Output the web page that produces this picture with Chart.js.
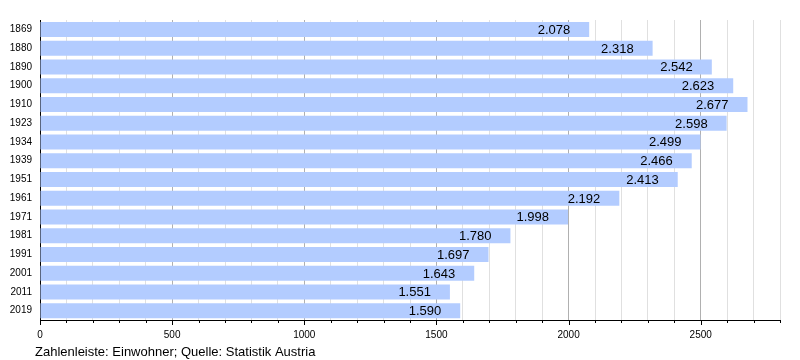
<!DOCTYPE html>
<html><head><meta charset="utf-8">
<script src="https://cdn.jsdelivr.net/npm/chart.js@4"></script>
<style>html,body{margin:0;padding:0;background:#fff}#wrap{width:800px;height:360px;position:relative}</style>
</head><body><div id="wrap"><canvas id="c" width="800" height="360"></canvas></div>
<script>
const years = ["1869","1880","1890","1900","1910","1923","1934","1939","1951","1961","1971","1981","1991","2001","2011","2019"];
const population = [2078,2318,2542,2623,2677,2598,2499,2466,2413,2192,1998,1780,1697,1643,1551,1590];
const xTickLabels = [0,500,1000,1500,2000,2500];
const footer = "Zahlenleiste: Einwohner; Quelle: Statistik Austria";
const FONT = "'Liberation Sans', Arial, sans-serif";

function fmt(v){ const s=String(v); return s.length>3 ? s.slice(0,s.length-3)+"."+s.slice(-3) : s; }

const extras = {
  id:'extras',
  afterDatasetsDraw(chart){
    const ctx=chart.ctx, meta=chart.getDatasetMeta(0);
    ctx.save();
    ctx.font="13px "+FONT; ctx.fillStyle="#000"; ctx.textAlign="right"; ctx.textBaseline="middle";
    meta.data.forEach((bar,i)=>{ ctx.fillText(fmt(population[i]), bar.x-19, bar.y+1); });
    // tick marks under x axis
    const xs=chart.scales.x, b=chart.chartArea.bottom;
    ctx.strokeStyle="#000"; ctx.lineWidth=1;
    for(let v=0; v<=2800; v+=100){
      const px=Math.round(xs.getPixelForValue(v))+0.5;
      ctx.beginPath(); ctx.moveTo(px,b); ctx.lineTo(px,b+(v%500===0?5:3)); ctx.stroke();
    }
    ctx.font="13px "+FONT; ctx.textAlign="left"; ctx.textBaseline="alphabetic";
    ctx.fillText(footer, 35, 356);
    ctx.restore();
  }
};

new Chart(document.getElementById('c'), {
  type:'bar',
  data:{ labels:years, datasets:[{ data:population, backgroundColor:'#b3ccff', borderWidth:0, categoryPercentage:1, barPercentage:0.8 }]},
  options:{
    indexAxis:'y', responsive:false, animation:false,
    layout:{ padding:{ left:0, right:20, top:20, bottom:0 } },
    plugins:{ legend:{display:false}, tooltip:{enabled:false} },
    scales:{
      x:{ min:0, max:2800,
        afterFit(s){ s.height=40; },
        ticks:{ stepSize:100, autoSkip:false, maxRotation:0, padding:9, color:'#000', font:{family:FONT,size:10},
          callback(v){ return xTickLabels.includes(v) ? String(v) : ''; } },
        grid:{ drawTicks:false, color(c){ const v=c.tick&&c.tick.value; return (v%500===0)?'#b0b0b0':'#e0e0e0'; } },
        border:{ color:'#000', width:1 }
      },
      y:{
        afterFit(s){ s.width=40; },
        ticks:{ color:'#000', padding:8, font:{family:FONT,size:10} },
        grid:{ display:false, drawTicks:false },
        border:{ color:'#000', width:1 }
      }
    }
  },
  plugins:[extras]
});
</script></body></html>
